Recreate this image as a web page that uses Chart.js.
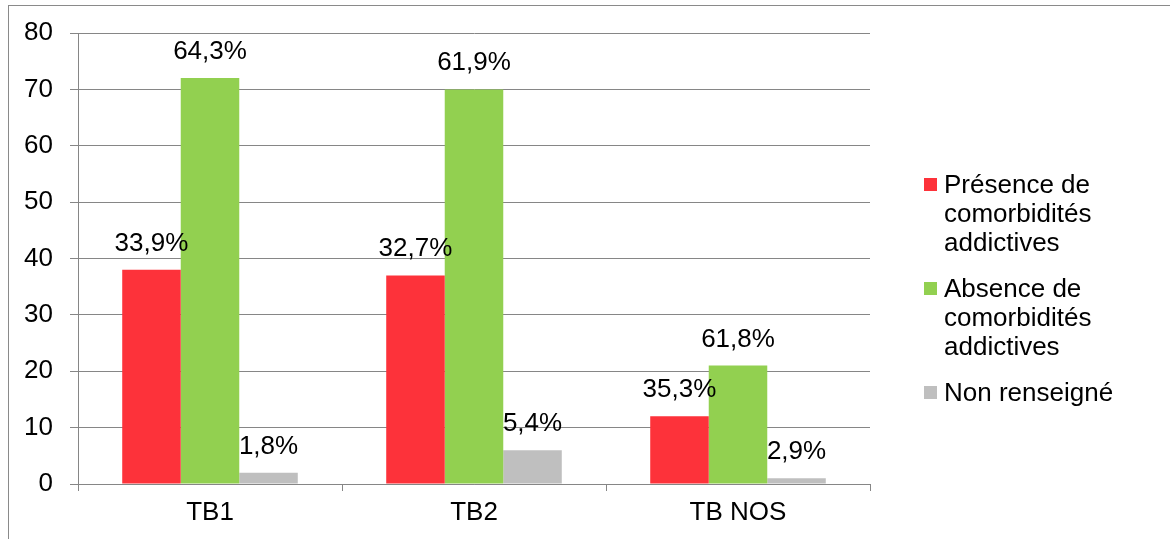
<!DOCTYPE html>
<html>
<head>
<meta charset="utf-8">
<script src="https://cdn.jsdelivr.net/npm/chart.js@4/dist/chart.umd.min.js"></script>
<style>
  html, body { margin: 0; padding: 0; background: #fff; }
  #wrap { position: relative; width: 1170px; height: 539px; overflow: hidden; }
  #frame { position: absolute; left: 8px; top: 5px; width: 1300px; height: 700px;
           border-top: 1px solid #8a8a8a; border-left: 1px solid #8a8a8a; }
  #chart { position: absolute; left: 0; top: 0; }
  #legend { position: absolute; left: 924px; top: 170px; width: 220px;
            font-family: "Liberation Sans", Arial, sans-serif; font-size: 26px; line-height: 29px; color: #000; }
  .item { position: relative; padding-left: 20px; width: 185px; margin-bottom: 17px; }
  .item span.box { position: absolute; left: 0; top: 8px; width: 13px; height: 13px; }
</style>
</head>
<body>
<div id="wrap">
  <div id="frame"></div>
  <canvas id="chart" width="1170" height="539"></canvas>
  <div id="legend"></div>
</div>
<script>
// --- data ---
const categories = ['TB1', 'TB2', 'TB NOS'];
const seriesNames = ['Présence de comorbidités addictives', 'Absence de comorbidités addictives', 'Non renseigné'];
const presence = [38, 37, 12];
const absence = [72, 70, 21];
const nonRenseigne = [2, 6, 1];
const presenceLabels = ['33,9%', '32,7%', '35,3%'];
const absenceLabels = ['64,3%', '61,9%', '61,8%'];
const nonRenseigneLabels = ['1,8%', '5,4%', '2,9%'];
const yTicks = [0, 10, 20, 30, 40, 50, 60, 70, 80];

const colors = ['#fd323a', '#92d050', '#bfbfbf'];
const FONT = "'Liberation Sans', Arial, sans-serif";

// étiquettes au-dessus des barres
const barLabels = {
    id: 'barLabels',
    afterDatasetsDraw(chart) {
        const ctx = chart.ctx;
        ctx.save();
        ctx.font = '26px ' + FONT;
        ctx.fillStyle = '#000';
        ctx.textAlign = 'center';
        ctx.textBaseline = 'alphabetic';
        chart.data.datasets.forEach((ds, i) => {
            chart.getDatasetMeta(i).data.forEach((bar, j) => {
                ctx.fillText(ds.valueLabels[j], bar.x, bar.y - 19);
            });
        });
        ctx.restore();
    }
};

new Chart(document.getElementById('chart'), {
    type: 'bar',
    data: {
        labels: categories,
        datasets: [
            { label: seriesNames[0], data: presence, valueLabels: presenceLabels, backgroundColor: colors[0] },
            { label: seriesNames[1], data: absence, valueLabels: absenceLabels, backgroundColor: colors[1] },
            { label: seriesNames[2], data: nonRenseigne, valueLabels: nonRenseigneLabels, backgroundColor: colors[2] }
        ]
    },
    options: {
        responsive: false,
        animation: false,
        devicePixelRatio: 1,
        layout: { padding: { left: 0, top: 33, right: 300, bottom: 0 } },
        datasets: { bar: { categoryPercentage: 0.665, barPercentage: 1, borderWidth: 0 } },
        plugins: { legend: { display: false }, tooltip: { enabled: false } },
        scales: {
            x: {
                afterFit: s => { s.height = 55; },
                grid: { offset: true, drawOnChartArea: false, drawTicks: true, tickLength: 7, color: '#868686' },
                border: { color: '#868686' },
                ticks: { color: '#000', font: { size: 26, family: FONT }, padding: 6 }
            },
            y: {
                min: 0, max: 80,
                afterFit: s => { s.width = 78; },
                afterBuildTicks: s => { s.ticks = yTicks.map(v => ({ value: v })); },
                grid: { color: '#868686', tickLength: 8 },
                border: { color: '#868686' },
                ticks: { color: '#000', font: { size: 26, family: FONT }, padding: 17 }
            }
        }
    },
    plugins: [barLabels]
});

// légende HTML à droite
const legend = document.getElementById('legend');
seriesNames.forEach((name, i) => {
    const item = document.createElement('div');
    item.className = 'item';
    const box = document.createElement('span');
    box.className = 'box';
    box.style.background = colors[i];
    item.appendChild(box);
    item.appendChild(document.createTextNode(name));
    legend.appendChild(item);
});
</script>
</body>
</html>
